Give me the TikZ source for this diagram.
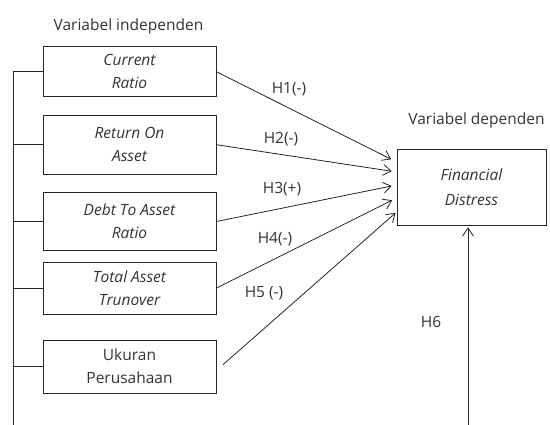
\documentclass[tikz,border=0pt]{standalone}
\usepackage{fontspec}
\setmainfont{Open Sans}
\usetikzlibrary{arrows.meta, positioning}
\definecolor{linegray}{HTML}{262626}
\definecolor{textgray}{HTML}{333333}

\begin{document}
\begin{tikzpicture}[
  x=1pt, y=-1pt,
  font=\fontsize{15.5}{23}\selectfont,
  varbox/.style={rectangle, draw=linegray, line width=0.8pt, minimum width=173pt, align=center, text=textgray, inner sep=2pt},
  indbox/.style={varbox, font=\fontsize{15.5}{23}\selectfont\itshape},
  depbox/.style={varbox, minimum width=149pt, minimum height=76pt, font=\fontsize{15.5}{25}\selectfont\itshape},
  lbl/.style={text=textgray, inner sep=1pt},
  arr/.style={-{Straight Barb[length=8pt, width=11pt]}, line width=0.8pt, color=linegray},
  conn/.style={line width=0.8pt, color=linegray},
]
\useasboundingbox (0,0) rectangle (550,425);

%% Independent variables
\node[indbox, minimum height=50pt] (cr) at (129.5,71.7) {Current\\Ratio};
\node[indbox, minimum height=59pt] (roa) at (129.5,144.7) {Return On\\Asset};
\node[indbox, minimum height=58pt] (dta) at (129.5,221.5) {Debt To Asset\\Ratio};
\node[indbox, minimum height=52pt] (tat) at (129.5,288) {Total Asset\\Trunover};
\node[varbox, minimum height=53pt] (ukp) at (129.5,366.5) {Ukuran\\Perusahaan};

\node[lbl, above=11pt of cr, xshift=-1pt] (indtitle) {Variabel independen};

%% Dependent variable
\node[depbox] (fd) at (471.5,187) {Financial\\Distress};
\node[lbl, above=19pt of fd, xshift=5pt] (deptitle) {Variabel dependen};

%% Bus on the left
\coordinate (bus) at (13,425);
\draw[conn] (cr.west) -| (bus);
\foreach \b in {roa, dta, tat, ukp}
  \draw[conn] (\b.west) -- (\b.west -| bus);

%% Hypotheses
\draw[arr, shorten >=6pt] (cr.east) -- ([yshift=25pt]fd.west);
\draw[arr, shorten >=5pt] (roa.east) -- ([yshift=15pt]fd.west);
\draw[arr, shorten >=5pt] (dta.east) -- ([yshift=2pt]fd.west);
\draw[arr, shorten >=5pt] (tat.east) -- ([yshift=-11pt]fd.west);
\draw[arr, shorten <=9pt, shorten >=1.5pt] ([yshift=-4pt]ukp.east) -- ([yshift=-25pt]fd.west);

\coordinate (h6bot) at (468,425);
\draw[arr, shorten >=2pt] (h6bot) -- (h6bot |- fd.south);

%% Labels
\node[lbl] (h1) at (289,89) {H1(-)};
\node[lbl] (h2) at (281,139) {H2(-)};
\node[lbl] (h3) at (282,189) {H3(+)};
\node[lbl] (h4) at (275,239) {H4(-)};
\node[lbl] (h5) at (264,293) {H5 (-)};
\node[lbl] (h6) at (431,322) {H6};

\end{tikzpicture}
\end{document}
